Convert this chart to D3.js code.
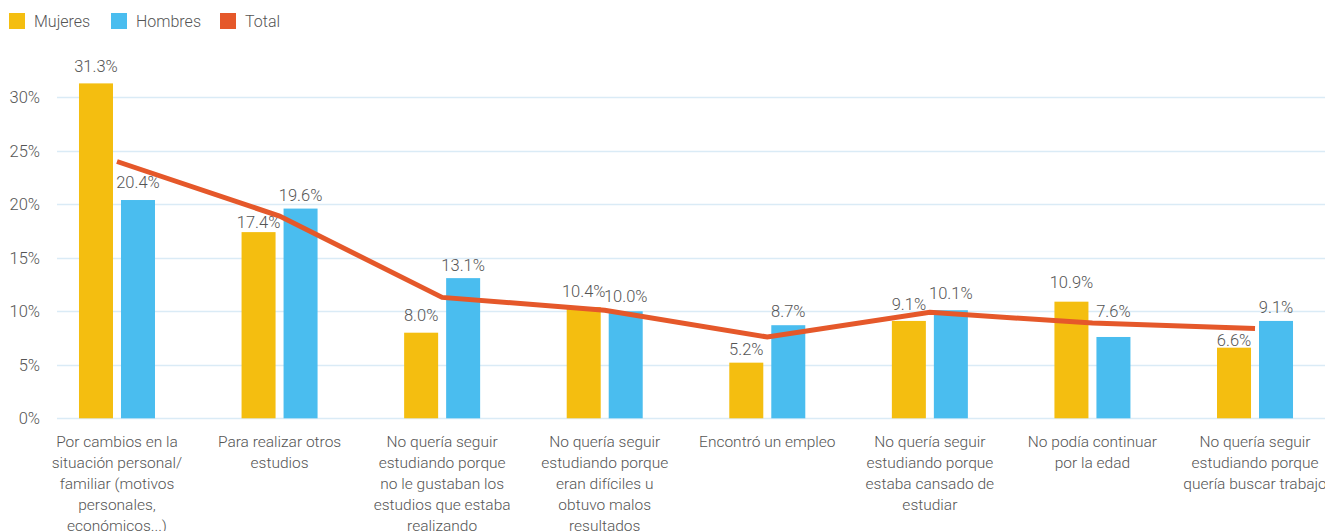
<!DOCTYPE html>
<html>
<head>
<meta charset="utf-8">
<script src="https://cdn.jsdelivr.net/npm/d3@7"></script>
<style>
  body { margin: 0; background: #fff; }
  text { font-family: Roboto, "Open Sans", sans-serif; font-weight: 300; fill: #555555; }
</style>
</head>
<body>
<script>
// categories (line breaks as in the original chart)
var categories = [
  "Por cambios en la\nsituación personal/\nfamiliar (motivos\npersonales,\neconómicos...)",
  "Para realizar otros\nestudios",
  "No quería seguir\nestudiando porque\nno le gustaban los\nestudios que estaba\nrealizando",
  "No quería seguir\nestudiando porque\neran difíciles u\nobtuvo malos\nresultados",
  "Encontró un empleo",
  "No quería seguir\nestudiando porque\nestaba cansado de\nestudiar",
  "No podía continuar\npor la edad",
  "No quería seguir\nestudiando porque\nquería buscar trabajo"
];
var mujeres = [31.3, 17.4, 8.0, 10.4, 5.2, 9.1, 10.9, 6.6];
var hombres = [20.4, 19.6, 13.1, 10.0, 8.7, 10.1, 7.6, 9.1];
var total   = [24.0, 18.9, 11.3, 10.1, 7.6, 9.9, 8.9, 8.4];
var yTicks  = [0, 5, 10, 15, 20, 25, 30];
var seriesNames = ["Mujeres", "Hombres", "Total"];

// label gaps above bars (px), nudged by hand like in the original
var mujeresGap = [11, 4, 12, 10, 8, 11, 14, 2];
var hombresGap = [12, 8, 7, 9, 8, 11, 20, 8];

var w = 1325, h = 531;
var colors = { Mujeres: "#F4BE10", Hombres: "#4ABDEF", Total: "#E5582A" };

var svg = d3.select("body").append("svg")
  .attr("width", w)
  .attr("height", h);

var x = d3.scaleBand()
  .domain(d3.range(categories.length))
  .range([35.7, 1336.3]);

var x1 = d3.scaleBand()
  .domain(["Mujeres", "Hombres"])
  .range([-38, 38])
  .paddingInner(8 / 42);

var y = d3.scaleLinear()
  .domain([0, 30])
  .range([418.3, 97.3]);

// gridlines
svg.append("g")
  .selectAll("line")
  .data(yTicks)
  .enter()
  .append("line")
  .attr("x1", 57)
  .attr("x2", w)
  .attr("y1", function(d) { return Math.round(y(d)) + 0.5; })
  .attr("y2", function(d) { return Math.round(y(d)) + 0.5; })
  .attr("stroke", "#DAEBF6")
  .attr("stroke-width", 1.5);

// y axis labels
var yAxis = d3.axisLeft(y)
  .tickValues(yTicks)
  .tickFormat(function(d) { return d + "%"; })
  .tickSize(0)
  .tickPadding(0);

var ya = svg.append("g")
  .attr("transform", "translate(40,0)")
  .call(yAxis);
ya.select(".domain").remove();
ya.selectAll("text")
  .attr("font-size", 16.5)
  .attr("font-family", null)
  .attr("fill", "#555555");

// bars
var groups = svg.selectAll("g.cat")
  .data(categories)
  .enter()
  .append("g")
  .attr("class", "cat")
  .attr("transform", function(d, i) { return "translate(" + (x(i) + x.bandwidth() / 2) + ",0)"; });

var barData = function(i) {
  return [
    { key: "Mujeres", value: mujeres[i], gap: mujeresGap[i] },
    { key: "Hombres", value: hombres[i], gap: hombresGap[i] }
  ];
};

groups.selectAll("rect")
  .data(function(d, i) { return barData(i); })
  .enter()
  .append("rect")
  .attr("x", function(d) { return x1(d.key); })
  .attr("width", x1.bandwidth())
  .attr("y", function(d) { return y(d.value); })
  .attr("height", function(d) { return y(0) - y(d.value); })
  .attr("fill", function(d) { return colors[d.key]; });

// total line
var line = d3.line()
  .x(function(d, i) { return x(i) + x.bandwidth() / 2; })
  .y(function(d) { return y(d); });

svg.append("path")
  .datum(total)
  .attr("d", line)
  .attr("fill", "none")
  .attr("stroke", colors.Total)
  .attr("stroke-width", 5);

// bar value labels
groups.selectAll("text.val")
  .data(function(d, i) { return barData(i); })
  .enter()
  .append("text")
  .attr("class", "val")
  .attr("x", function(d) { return x1(d.key) + x1.bandwidth() / 2; })
  .attr("y", function(d) { return y(d.value) - d.gap; })
  .attr("text-anchor", "middle")
  .attr("font-size", 16.5)
  .text(function(d) { return d.value.toFixed(1) + "%"; });

// category labels
groups.append("text")
  .attr("class", "cat-label")
  .attr("text-anchor", "middle")
  .attr("font-size", 15.5)
  .selectAll("tspan")
  .data(function(d) { return d.split("\n"); })
  .enter()
  .append("tspan")
  .attr("x", 0)
  .attr("y", function(d, i) { return 447 + i * 21; })
  .text(function(d) { return d; });

// legend
var legendX = [9, 111, 220];
var legend = svg.selectAll("g.legend")
  .data(seriesNames)
  .enter()
  .append("g")
  .attr("class", "legend")
  .attr("transform", function(d, i) { return "translate(" + legendX[i] + ",13)"; });

legend.append("rect")
  .attr("width", 16)
  .attr("height", 16)
  .attr("fill", function(d) { return colors[d]; });

legend.append("text")
  .attr("x", 25)
  .attr("y", 14)
  .attr("font-size", 16)
  .text(function(d) { return d; });
</script>
</body>
</html>
